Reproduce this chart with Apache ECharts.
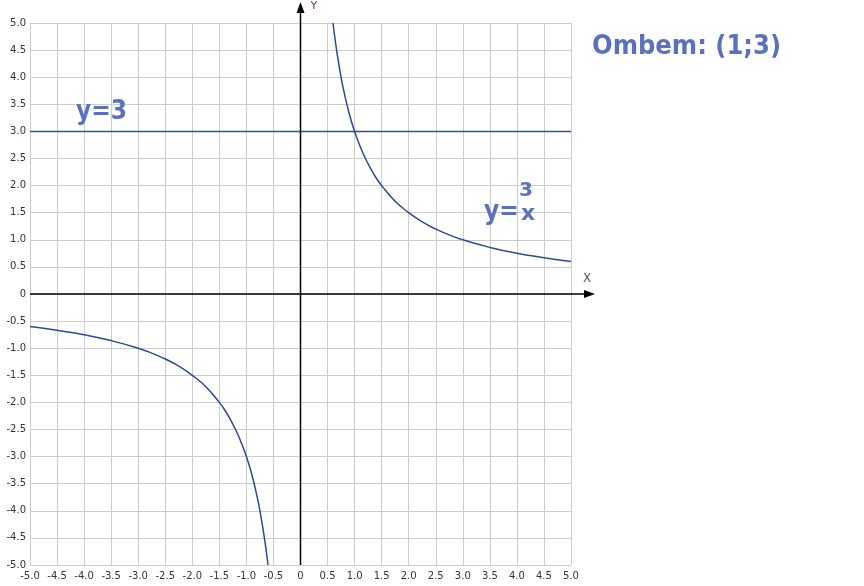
<!DOCTYPE html>
<html><head><meta charset="utf-8">
<script src="https://cdn.jsdelivr.net/npm/echarts@6/dist/echarts.min.js"></script>
<style>html,body{margin:0;padding:0;background:#fff}#c{width:864px;height:586px}</style>
</head><body><div id="c"></div>
<script>
// Data
const posX = [0.6, 0.65, 0.7, 0.75, 0.8, 0.9, 1.0, 1.1, 1.2, 1.3, 1.4, 1.5, 1.75, 2.0, 2.25, 2.5, 2.75, 3.0, 3.5, 4.0, 4.5, 5.0];
const posY = [5.0, 4.62, 4.29, 4.0, 3.75, 3.33, 3.0, 2.73, 2.5, 2.31, 2.14, 2.0, 1.71, 1.5, 1.33, 1.2, 1.09, 1.0, 0.86, 0.75, 0.67, 0.6];
const negX = [-5.0, -4.5, -4.0, -3.5, -3.0, -2.75, -2.5, -2.25, -2.0, -1.75, -1.5, -1.4, -1.3, -1.2, -1.1, -1.0, -0.9, -0.8, -0.75, -0.7, -0.65, -0.6];
const negY = [-0.6, -0.67, -0.75, -0.86, -1.0, -1.09, -1.2, -1.33, -1.5, -1.71, -2.0, -2.14, -2.31, -2.5, -2.73, -3.0, -3.33, -3.75, -4.0, -4.29, -4.62, -5.0];
const hLineX = [-5, 5];
const hLineY = [3, 3];
const axisMin = -5, axisMax = 5, axisStep = 0.5;

const chart = echarts.init(document.getElementById('c'));
const fmt = v => (Math.abs(v) < 1e-9 ? '0' : v.toFixed(1));
const labelStyle = {color: '#333', fontFamily: 'DejaVu Sans', fontSize: 10};
chart.setOption({
  animation: false,
  grid: {left: 30, right: 293, top: 23, bottom: 21, containLabel: false},
  xAxis: {type: 'value', min: axisMin, max: axisMax, interval: axisStep,
    axisLine: {show: false}, axisTick: {show: false},
    splitLine: {show: true, lineStyle: {color: '#cccccc', width: 1}},
    axisLabel: Object.assign({formatter: fmt, margin: 6}, labelStyle)},
  yAxis: {type: 'value', min: axisMin, max: axisMax, interval: axisStep,
    axisLine: {show: false}, axisTick: {show: false},
    splitLine: {show: true, lineStyle: {color: '#cccccc', width: 1}},
    axisLabel: Object.assign({formatter: fmt, margin: 4}, labelStyle)},
  series: [
    {type: 'line', data: hLineX.map((x, i) => [x, hLineY[i]]), showSymbol: false,
      lineStyle: {color: '#2e4fa8', width: 1.5}},
    {type: 'line', data: posX.map((x, i) => [x, posY[i]]), smooth: true, showSymbol: false,
      lineStyle: {color: '#2c4a92', width: 1.5}},
    {type: 'line', data: negX.map((x, i) => [x, negY[i]]), smooth: true, showSymbol: false,
      lineStyle: {color: '#2c4a92', width: 1.5}}
  ]
});

// Axes with arrows through origin
const o = chart.convertToPixel({gridIndex: 0}, [0, 0]);
const l = chart.convertToPixel({gridIndex: 0}, [axisMin, axisMin]);
const r = chart.convertToPixel({gridIndex: 0}, [axisMax, axisMax]);
const hand = '#5a72be';
const handFont = 'bold 26px "DejaVu Sans Condensed", "DejaVu Sans"';
chart.setOption({graphic: [
  {type: 'line', shape: {x1: l[0], y1: o[1], x2: r[0] + 18, y2: o[1]}, style: {stroke: '#000', lineWidth: 1.5}, z: 100},
  {type: 'polygon', shape: {points: [[r[0] + 24, o[1]], [r[0] + 13, o[1] - 4], [r[0] + 13, o[1] + 4]]}, style: {fill: '#000'}, z: 100},
  {type: 'line', shape: {x1: o[0], y1: l[1], x2: o[0], y2: r[1] - 14}, style: {stroke: '#000', lineWidth: 1.5}, z: 100},
  {type: 'polygon', shape: {points: [[o[0], r[1] - 21], [o[0] - 4, r[1] - 10], [o[0] + 4, r[1] - 10]]}, style: {fill: '#000'}, z: 100},
  {type: 'text', left: o[0] + 10, top: 1, style: {text: 'Y', fill: '#6b2a5e', font: '11px "DejaVu Sans"'}, z: 100},
  {type: 'text', left: r[0] + 12, top: o[1] - 21, style: {text: 'X', fill: '#555', font: '12px "DejaVu Sans"'}, z: 100},
  {type: 'text', left: 592, top: 27, style: {text: 'Ombem: (1;3)', fill: hand, font: 'bold 27px "DejaVu Sans Condensed", "DejaVu Sans"', lineHeight: 40}, z: 100},
  {type: 'text', left: 76, top: 99, style: {text: 'y=3', fill: hand, font: handFont}, z: 100},
  {type: 'text', left: 484, top: 199, style: {text: 'y=', fill: hand, font: handFont}, z: 100},
  {type: 'text', left: 519, top: 181, style: {text: '3', fill: hand, font: 'bold 20px "DejaVu Sans"'}, z: 100},
  {type: 'text', left: 521, top: 203, style: {text: 'x', fill: hand, font: 'bold 22px "DejaVu Sans"'}, z: 100}
]});
</script></body></html>
